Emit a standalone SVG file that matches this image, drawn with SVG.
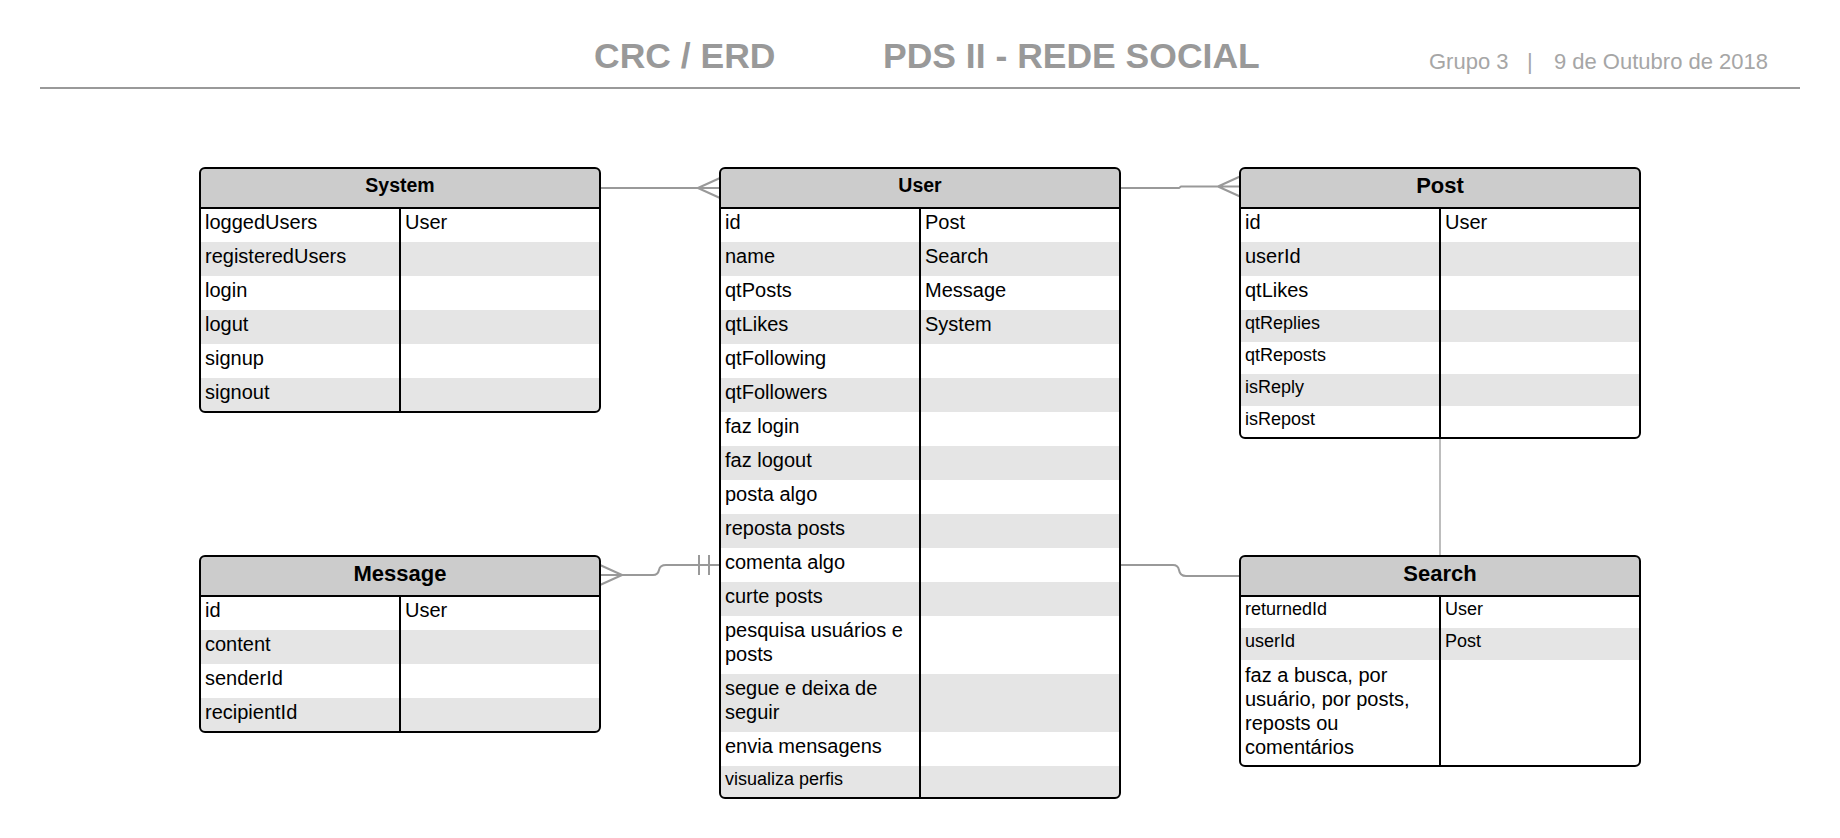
<svg xmlns="http://www.w3.org/2000/svg" width="1840" height="838" viewBox="0 0 1840 838">
<style>
.title{font-family:"Liberation Sans",Arial,sans-serif;font-weight:bold;font-size:35.5px;fill:#999999}
.sub{font-family:"Liberation Sans",Arial,sans-serif;font-size:22px;fill:#a6a6a6}
.hdr{fill:#cccccc}
.alt{fill:#e5e5e5}
.wht{fill:#ffffff}
.frame{fill:none;stroke:#000;stroke-width:2}
.sep{stroke:#000;stroke-width:2}
.h1{font-family:"Liberation Sans",Arial,sans-serif;font-weight:bold;font-size:19.5px;fill:#000;text-anchor:middle}
.h2{font-family:"Liberation Sans",Arial,sans-serif;font-weight:bold;font-size:22px;fill:#000;text-anchor:middle}
.t{font-family:"Liberation Sans",Arial,sans-serif;font-size:20px;fill:#000}
.s{font-family:"Liberation Sans",Arial,sans-serif;font-size:18px;fill:#000}
.conn{fill:none;stroke:#999999;stroke-width:2}
.thin{fill:none;stroke:#999999;stroke-width:1.3}
</style>
<defs>
<clipPath id="cSystem"><rect x="200" y="168" width="400" height="244" rx="5"/></clipPath>
<clipPath id="cUser"><rect x="720" y="168" width="400" height="630" rx="5"/></clipPath>
<clipPath id="cPost"><rect x="1240" y="168" width="400" height="270" rx="5"/></clipPath>
<clipPath id="cMessage"><rect x="200" y="556" width="400" height="176" rx="5"/></clipPath>
<clipPath id="cSearch"><rect x="1240" y="556" width="400" height="210" rx="5"/></clipPath>
</defs>
<rect width="1840" height="838" fill="#ffffff"/>

<g id="header">
<text class="title" x="594" y="68">CRC / ERD</text>
<text class="title" x="883" y="68">PDS II - REDE SOCIAL</text>
<text class="sub" x="1429" y="69">Grupo 3</text>
<text class="sub" x="1527" y="69">|</text>
<text class="sub" x="1768" y="69" text-anchor="end">9 de Outubro de 2018</text>
<line x1="40" y1="88" x2="1800" y2="88" stroke="#999999" stroke-width="2"/>
</g>

<g id="connectors">
<path class="conn" d="M600,188 H720 M698,188 L720,178 M698,188 L720,198"/>
<path class="conn" d="M1120,188 H1179 L1181,186.5 H1240 M1218,186.5 L1240,176.5 M1218,186.5 L1240,196.5"/>
<path class="conn" d="M600,575 H653 Q658,575 659,570 Q660,565 666,565 H720 M622,575 L600,565 M622,575 L600,585 M699,555 V575 M709,555 V575"/>
<path class="conn" d="M1120,565 H1173 Q1178,565 1179,570 Q1180,576 1186,576 H1240"/>
<path class="thin" d="M1440,438 V556"/>
</g>

<g id="System">
<g clip-path="url(#cSystem)">
<rect class="hdr" x="200" y="168" width="400" height="40"/>
<rect class="wht" x="200" y="208" width="400" height="34"/>
<rect class="alt" x="200" y="242" width="400" height="34"/>
<rect class="wht" x="200" y="276" width="400" height="34"/>
<rect class="alt" x="200" y="310" width="400" height="34"/>
<rect class="wht" x="200" y="344" width="400" height="34"/>
<rect class="alt" x="200" y="378" width="400" height="34"/>
</g>
<line class="sep" x1="200" y1="208" x2="600" y2="208"/>
<line class="sep" x1="400" y1="208" x2="400" y2="412"/>
<rect class="frame" x="200" y="168" width="400" height="244" rx="5"/>
<text class="h1" x="400" y="192">System</text>
<text class="t" x="205" y="229">loggedUsers</text>
<text class="t" x="405" y="229">User</text>
<text class="t" x="205" y="263">registeredUsers</text>
<text class="t" x="205" y="297">login</text>
<text class="t" x="205" y="331">logut</text>
<text class="t" x="205" y="365">signup</text>
<text class="t" x="205" y="399">signout</text>
</g>

<g id="User">
<g clip-path="url(#cUser)">
<rect class="hdr" x="720" y="168" width="400" height="40"/>
<rect class="wht" x="720" y="208" width="400" height="34"/>
<rect class="alt" x="720" y="242" width="400" height="34"/>
<rect class="wht" x="720" y="276" width="400" height="34"/>
<rect class="alt" x="720" y="310" width="400" height="34"/>
<rect class="wht" x="720" y="344" width="400" height="34"/>
<rect class="alt" x="720" y="378" width="400" height="34"/>
<rect class="wht" x="720" y="412" width="400" height="34"/>
<rect class="alt" x="720" y="446" width="400" height="34"/>
<rect class="wht" x="720" y="480" width="400" height="34"/>
<rect class="alt" x="720" y="514" width="400" height="34"/>
<rect class="wht" x="720" y="548" width="400" height="34"/>
<rect class="alt" x="720" y="582" width="400" height="34"/>
<rect class="wht" x="720" y="616" width="400" height="58"/>
<rect class="alt" x="720" y="674" width="400" height="58"/>
<rect class="wht" x="720" y="732" width="400" height="34"/>
<rect class="alt" x="720" y="766" width="400" height="32"/>
</g>
<line class="sep" x1="720" y1="208" x2="1120" y2="208"/>
<line class="sep" x1="920" y1="208" x2="920" y2="798"/>
<rect class="frame" x="720" y="168" width="400" height="630" rx="5"/>
<text class="h1" x="920" y="192">User</text>
<text class="t" x="725" y="229">id</text>
<text class="t" x="925" y="229">Post</text>
<text class="t" x="725" y="263">name</text>
<text class="t" x="925" y="263">Search</text>
<text class="t" x="725" y="297">qtPosts</text>
<text class="t" x="925" y="297">Message</text>
<text class="t" x="725" y="331">qtLikes</text>
<text class="t" x="925" y="331">System</text>
<text class="t" x="725" y="365">qtFollowing</text>
<text class="t" x="725" y="399">qtFollowers</text>
<text class="t" x="725" y="433">faz login</text>
<text class="t" x="725" y="467">faz logout</text>
<text class="t" x="725" y="501">posta algo</text>
<text class="t" x="725" y="535">reposta posts</text>
<text class="t" x="725" y="569">comenta algo</text>
<text class="t" x="725" y="603">curte posts</text>
<text class="t" x="725" y="637">pesquisa usuários e</text>
<text class="t" x="725" y="661">posts</text>
<text class="t" x="725" y="695">segue e deixa de</text>
<text class="t" x="725" y="719">seguir</text>
<text class="t" x="725" y="753">envia mensagens</text>
<text class="s" x="725" y="785">visualiza perfis</text>
</g>

<g id="Post">
<g clip-path="url(#cPost)">
<rect class="hdr" x="1240" y="168" width="400" height="40"/>
<rect class="wht" x="1240" y="208" width="400" height="34"/>
<rect class="alt" x="1240" y="242" width="400" height="34"/>
<rect class="wht" x="1240" y="276" width="400" height="34"/>
<rect class="alt" x="1240" y="310" width="400" height="32"/>
<rect class="wht" x="1240" y="342" width="400" height="32"/>
<rect class="alt" x="1240" y="374" width="400" height="32"/>
<rect class="wht" x="1240" y="406" width="400" height="32"/>
</g>
<line class="sep" x1="1240" y1="208" x2="1640" y2="208"/>
<line class="sep" x1="1440" y1="208" x2="1440" y2="438"/>
<rect class="frame" x="1240" y="168" width="400" height="270" rx="5"/>
<text class="h2" x="1440" y="193">Post</text>
<text class="t" x="1245" y="229">id</text>
<text class="t" x="1445" y="229">User</text>
<text class="t" x="1245" y="263">userId</text>
<text class="t" x="1245" y="297">qtLikes</text>
<text class="s" x="1245" y="329">qtReplies</text>
<text class="s" x="1245" y="361">qtReposts</text>
<text class="s" x="1245" y="393">isReply</text>
<text class="s" x="1245" y="425">isRepost</text>
</g>

<g id="Message">
<g clip-path="url(#cMessage)">
<rect class="hdr" x="200" y="556" width="400" height="40"/>
<rect class="wht" x="200" y="596" width="400" height="34"/>
<rect class="alt" x="200" y="630" width="400" height="34"/>
<rect class="wht" x="200" y="664" width="400" height="34"/>
<rect class="alt" x="200" y="698" width="400" height="34"/>
</g>
<line class="sep" x1="200" y1="596" x2="600" y2="596"/>
<line class="sep" x1="400" y1="596" x2="400" y2="732"/>
<rect class="frame" x="200" y="556" width="400" height="176" rx="5"/>
<text class="h2" x="400" y="581">Message</text>
<text class="t" x="205" y="617">id</text>
<text class="t" x="405" y="617">User</text>
<text class="t" x="205" y="651">content</text>
<text class="t" x="205" y="685">senderId</text>
<text class="t" x="205" y="719">recipientId</text>
</g>

<g id="Search">
<g clip-path="url(#cSearch)">
<rect class="hdr" x="1240" y="556" width="400" height="40"/>
<rect class="wht" x="1240" y="596" width="400" height="32"/>
<rect class="alt" x="1240" y="628" width="400" height="32"/>
<rect class="wht" x="1240" y="660" width="400" height="106"/>
</g>
<line class="sep" x1="1240" y1="596" x2="1640" y2="596"/>
<line class="sep" x1="1440" y1="596" x2="1440" y2="766"/>
<rect class="frame" x="1240" y="556" width="400" height="210" rx="5"/>
<text class="h2" x="1440" y="581">Search</text>
<text class="s" x="1245" y="615">returnedId</text>
<text class="s" x="1445" y="615">User</text>
<text class="s" x="1245" y="647">userId</text>
<text class="s" x="1445" y="647">Post</text>
<text class="t" x="1245" y="682">faz a busca, por</text>
<text class="t" x="1245" y="706">usuário, por posts,</text>
<text class="t" x="1245" y="730">reposts ou</text>
<text class="t" x="1245" y="754">comentários</text>
</g>
</svg>
